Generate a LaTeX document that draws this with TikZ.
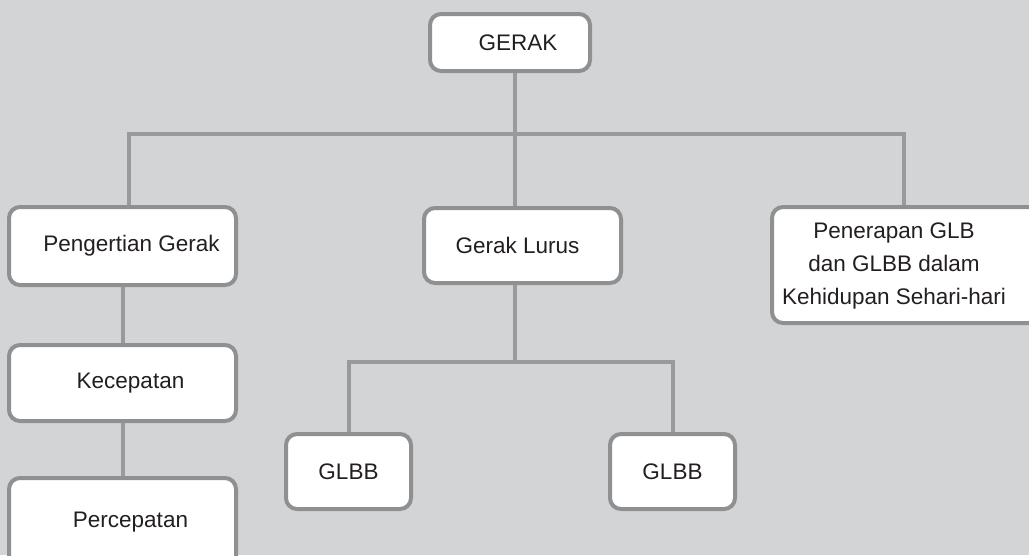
\documentclass[tikz,border=0pt]{standalone}
\usepackage{fontspec}
\setmainfont{Liberation Sans}
\usepackage{tikz}

\definecolor{bggray}{HTML}{D3D4D6}
\definecolor{linegray}{HTML}{999A9C}
\definecolor{boxgray}{HTML}{8F9092}
\definecolor{inkgray}{HTML}{231F20}

\tikzset{
  topic/.style={draw=boxgray, line width=4pt, fill=white, rounded corners=11pt,
    text=inkgray, font=\fontsize{22.5}{33}\selectfont, inner sep=0pt, align=center},
  nudge/.style={execute at begin node=\hspace*{#1}},
  link/.style={draw=linegray, line width=4pt},
}

\begin{document}
\begin{tikzpicture}[x=1pt, y=-1pt]
  \fill[bggray] (0,0) rectangle (1029,555);
  \useasboundingbox (0,0) rectangle (1029,555);
  \node[topic, nudge=16pt, minimum width=160pt, minimum height=57pt] (gerak) at (510,42.5) {GERAK};
  \node[topic, nudge=18pt, minimum width=227pt, minimum height=78pt] (pengertian) at (122.5,246) {Pengertian Gerak};
  \node[topic, nudge=16pt, minimum width=227pt, minimum height=76pt] (kecepatan) at (122.5,383) {Kecepatan};
  \node[topic, nudge=16pt, minimum width=227pt, minimum height=92pt] (percepatan) at (122.5,524)
    {\raisebox{9pt}{Percepatan}};
  \node[topic, minimum width=197pt, minimum height=75pt] (lurus) at (522.5,245.5) {Gerak Lurus\hspace*{10pt}};
  \node[topic, minimum width=125pt, minimum height=75pt] (glbbA) at (348.5,471.5) {GLBB};
  \node[topic, minimum width=125pt, minimum height=75pt] (glbbB) at (672.5,471.5) {GLBB};
  \node[topic, minimum width=268pt, minimum height=116pt] (penerapan) at (906,265)
    {\begin{tabular}{@{}c@{}}Penerapan GLB\\dan GLBB dalam\\Kehidupan Sehari-hari\end{tabular}\hspace*{24pt}};
  \coordinate (bar) at (515,134);
  \coordinate (barL) at (129,134);
  \coordinate (barR) at (904,134);
  \coordinate (split) at (515,362);
  \draw[link] (gerak.south -| bar) -- (bar);
  \draw[link] (barL |- pengertian.north) -- (barL) -- (barR) -- (barR |- penerapan.north);
  \draw[link] (bar) -- (bar |- lurus.north);
  \draw[link] (pengertian.south) -- (kecepatan.north);
  \draw[link] (kecepatan.south) -- (percepatan.north);
  \draw[link] (bar |- lurus.south) -- (split);
  \draw[link] (glbbA.north) |- (split) -| (glbbB.north);
\end{tikzpicture}
\end{document}
